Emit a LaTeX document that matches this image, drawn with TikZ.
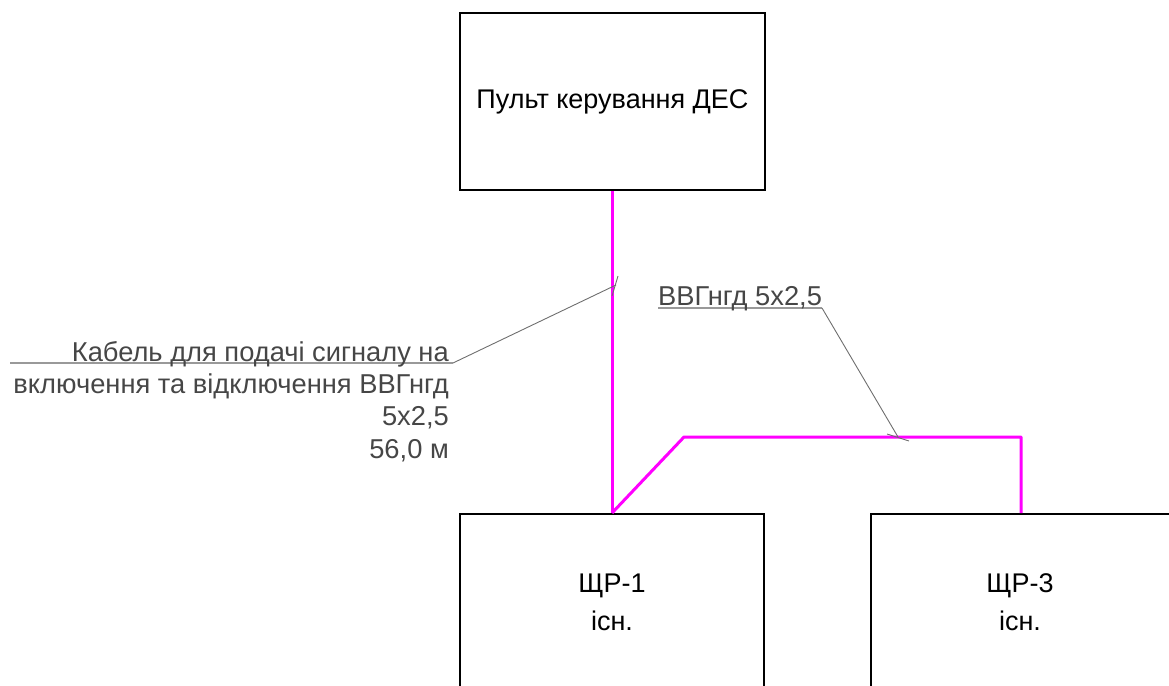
\documentclass[tikz,border=0pt]{standalone}
\usepackage{fontspec}
\setmainfont{Liberation Sans}
\definecolor{cable}{RGB}{255,0,255}
\definecolor{leadgray}{RGB}{110,110,110}
\definecolor{labgray}{RGB}{70,70,70}
\begin{document}
\begin{tikzpicture}[x=1pt,y=-1pt,
  panel/.style={draw=black,line width=2pt,fill=none,inner sep=0pt},
  cableline/.style={draw=cable,line width=3pt,line join=round},
  leader/.style={draw=leadgray,line width=0.9pt},
  underl/.style={draw=leadgray!70,line width=1.6pt},
  lbl/.style={font=\fontsize{27.3}{32.3}\selectfont,text=labgray},
  boxtxt/.style={font=\fontsize{27}{38}\selectfont,align=center}]
\useasboundingbox (0,0) rectangle (1169,685);
\clip (0,0) rectangle (1169,685);
% control desk and the two distribution boards
\node[panel,minimum width=305pt,minimum height=177pt] (des) at (612.5,101.5) {};
\node[boxtxt] at (des.center) {Пульт керування ДЕС};
\node[panel,minimum width=304pt,minimum height=200pt] (shr1) at (612,614) {};
\node[panel,minimum width=330pt,minimum height=200pt] (shr3) at (1036,614) {};
\node[boxtxt] at (612,602) {ЩР-1\\існ.};
\node[boxtxt] at (1020,602) {ЩР-3\\існ.};
% cable routes
\coordinate (t1) at (des.south -| 612,0);
\coordinate (b1) at (shr1.north -| 612,0);
\coordinate (bend) at (684,437);
\coordinate (b3) at (shr3.north -| 1021,0);
\draw[cableline] (t1) -- (b1);
\draw[cableline] (b1) -- (bend) -- (1021,437) -- (b3);
% leader for the control cable
\coordinate (l1a) at (10,363);
\coordinate (l1b) at (453,363);
\coordinate (l1c) at (616,285);
\draw[underl] (l1a) -- (l1b);
\draw[leader] (l1b) -- (l1c);
\draw[leader] (618,276) -- (612,296);
\node[lbl,anchor=base east,align=right,inner sep=0pt] (lab1) at (449,458)
  {Кабель для подачі сигналу на\\включення та відключення ВВГнгд\\5х2,5\\56,0 м};
% leader for the branch cable
\coordinate (l2a) at (658,308);
\coordinate (l2b) at (822,308);
\coordinate (l2c) at (898,437);
\draw[underl] (l2a) -- (l2b);
\draw[leader] (l2b) -- (l2c);
\draw[leader] (887,434) -- (909,441);
\node[lbl,anchor=base west,inner sep=0pt] (lab2) at (658,305) {ВВГнгд 5х2,5};
\end{tikzpicture}
\end{document}
